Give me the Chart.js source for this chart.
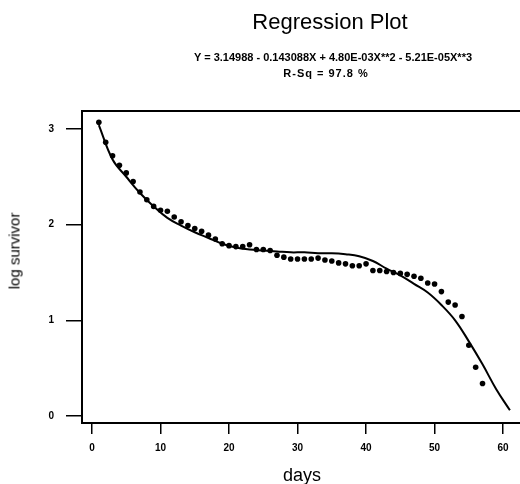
<!DOCTYPE html>
<html>
<head>
<title>Regression Plot</title>
<script src="https://cdn.jsdelivr.net/npm/chart.js"></script>
<style>
    body { margin: 0; background: #fff; overflow: hidden; font-family: "Liberation Sans", Arial, sans-serif; }
    #wrap { position: relative; width: 530px; height: 484px; }
    .lbl { position: absolute; transform: translate(-50%, -50%); white-space: nowrap; color: #000; }
</style>
</head>
<body>
<div id="wrap">
    <canvas id="regChart" width="530" height="484"></canvas>
    <div class="lbl" style="left:330px; top:22px; font-size:22px;">Regression Plot</div>
    <div class="lbl" style="left:333px; top:57px; font-size:11px; font-weight:bold;">Y = 3.14988 - 0.143088X + 4.80E-03X**2 - 5.21E-05X**3</div>
    <div class="lbl" style="left:326px; top:73px; font-size:11px; font-weight:bold; letter-spacing:1px;">R-Sq = 97.8 %</div>
    <div class="lbl" style="left:14px; top:251px; font-size:15px; transform: translate(-50%, -50%) rotate(-90deg);">log survivor</div>
    <div class="lbl" style="left:302px; top:475px; font-size:18px;">days</div>
</div>
<script>
    // 관측값 (일, log survivor)
    const days = [1, 2, 3, 4, 5, 6, 7, 8, 9, 10,
        11, 12, 13, 14, 15, 16, 17, 18, 19, 20,
        21, 22, 23, 24, 25, 26, 27, 28, 29, 30,
        31, 32, 33, 34, 35, 36, 37, 38, 39, 40,
        41, 42, 43, 44, 45, 46, 47, 48, 49, 50,
        51, 52, 53, 54, 55, 56, 57];
    const logSurvivor = [3.07, 2.86, 2.72, 2.62, 2.54, 2.45, 2.34, 2.26, 2.19, 2.15,
        2.14, 2.08, 2.03, 1.99, 1.96, 1.93, 1.89, 1.85, 1.80, 1.78,
        1.77, 1.77, 1.79, 1.74, 1.74, 1.73, 1.68, 1.66, 1.64, 1.64,
        1.64, 1.64, 1.65, 1.63, 1.62, 1.60, 1.59, 1.57, 1.57, 1.59,
        1.52, 1.52, 1.51, 1.50, 1.49, 1.48, 1.46, 1.44, 1.39, 1.38,
        1.30, 1.19, 1.16, 1.04, 0.74, 0.51, 0.34];

    // 회귀 곡선
    const fitDays = [1, 3, 5, 7, 9, 11, 13, 15, 17, 19, 21, 23, 25, 27, 29, 31,
        33, 35, 37, 39, 41, 43, 45, 47, 49, 51, 53, 55, 57, 59, 61];
    const fitValues = [3.04, 2.68, 2.50, 2.33, 2.19, 2.07, 1.99, 1.92, 1.86, 1.80, 1.76, 1.74, 1.73, 1.72, 1.71, 1.71,
        1.70, 1.70, 1.69, 1.67, 1.62, 1.54, 1.47, 1.38, 1.29, 1.16, 1.00, 0.78, 0.54, 0.28, 0.06];

    const xTicks = [0, 10, 20, 30, 40, 50, 60];
    const yTicks = [0, 1, 2, 3];

    // 플롯 테두리 (위/오른쪽)
    const frame = {
        id: 'frame',
        afterDraw(chart) {
            const a = chart.chartArea;
            const ctx = chart.ctx;
            ctx.save();
            ctx.strokeStyle = '#000';
            ctx.lineWidth = 2;
            ctx.strokeRect(a.left, a.top, a.right - a.left, a.bottom - a.top);
            ctx.restore();
        }
    };

    const tickFont = { family: 'Liberation Sans', size: 10, weight: 'bold' };

    new Chart(document.getElementById('regChart'), {
        type: 'scatter',
        data: {
            datasets: [
                {
                    label: 'fit',
                    type: 'line',
                    data: fitDays.map((d, i) => ({ x: d, y: fitValues[i] })),
                    borderColor: '#000',
                    borderWidth: 2,
                    tension: 0.4,
                    pointRadius: 0,
                    fill: false
                },
                {
                    label: 'log survivor',
                    data: days.map((d, i) => ({ x: d, y: logSurvivor[i] })),
                    backgroundColor: '#000',
                    borderColor: '#000',
                    pointRadius: 2.8,
                    borderWidth: 0
                }
            ]
        },
        options: {
            responsive: false,
            animation: false,
            layout: { padding: { left: 0, top: 111, right: 5, bottom: 0 } },
            plugins: {
                legend: { display: false },
                tooltip: { enabled: false }
            },
            scales: {
                x: {
                    type: 'linear',
                    min: -1.46,
                    max: 63.2,
                    afterFit(axis) { axis.height = 61; },
                    afterBuildTicks(axis) { axis.ticks = xTicks.map(v => ({ value: v })); },
                    grid: { drawOnChartArea: false, color: '#000', lineWidth: 1.5, tickLength: 11 },
                    border: { color: '#000', width: 2 },
                    ticks: { color: '#000', font: tickFont, padding: 8, maxRotation: 0 }
                },
                y: {
                    min: -0.073,
                    max: 3.187,
                    afterFit(axis) { axis.width = 82; },
                    afterBuildTicks(axis) { axis.ticks = yTicks.map(v => ({ value: v })); },
                    grid: { drawOnChartArea: false, color: '#000', lineWidth: 1.5, tickLength: 16 },
                    border: { color: '#000', width: 2 },
                    ticks: { color: '#000', font: tickFont, padding: 12 }
                }
            }
        },
        plugins: [frame]
    });
</script>
</body>
</html>
